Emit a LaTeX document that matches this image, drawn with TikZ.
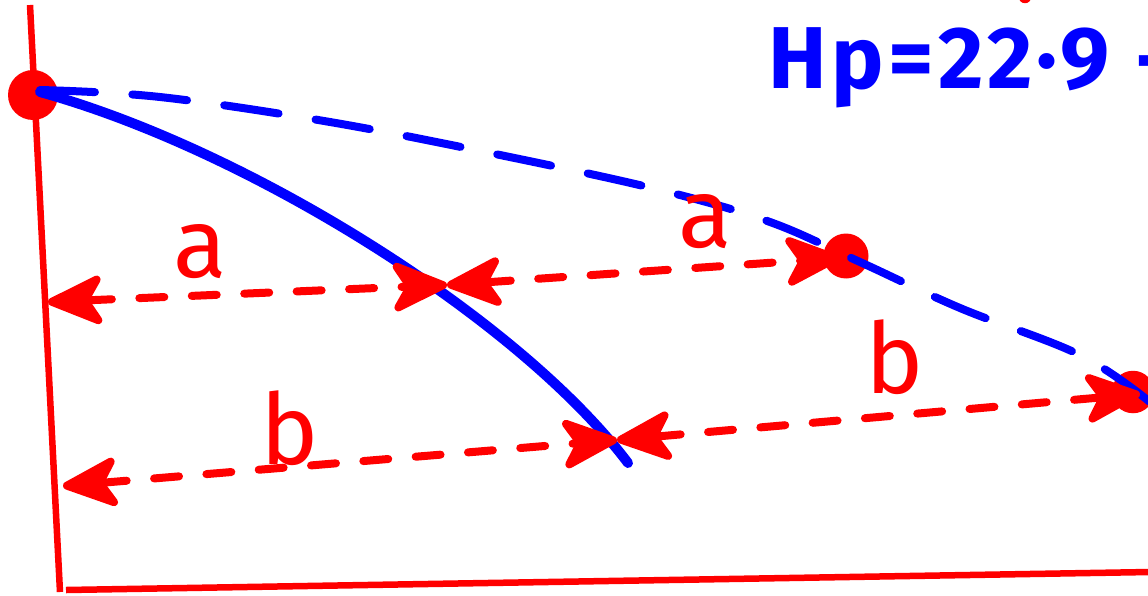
\documentclass[tikz,border=0pt]{standalone}
\usepackage{fontspec}
\setmainfont{Fira Sans}
\usetikzlibrary{arrows.meta}
\definecolor{penred}{RGB}{255,0,0}
\definecolor{penblue}{RGB}{0,0,255}
\tikzset{
  axisline/.style={draw=penred, line width=0.13cm},
  reddot/.style={circle, fill=penred, inner sep=0pt, minimum size=#1},
  solidcurve/.style={draw=penblue, line width=0.2cm, line cap=round, line join=round},
  dashcurve/.style={draw=penblue, line width=0.16cm, line cap=round, dash pattern=on 1.1cm off 0.75cm},
  dimarrow/.style={draw=penred, line width=0.16cm, line cap=round,
    dash pattern=on 0.5cm off 0.55cm,
    {Stealth[length=1.3cm,width=1.15cm,inset=0.35cm,round]}-{Stealth[length=1.3cm,width=1.15cm,inset=0.35cm,round]}},
  lbl/.style={text=penred, font=\fontsize{56}{60}\selectfont, inner sep=0pt},
  eqn/.style={text=penblue, font=\fontsize{50}{56}\selectfont\bfseries\addfontfeature{LetterSpace=5}, inner sep=0pt, anchor=base west}
}
\begin{document}
\begin{tikzpicture}[x=0.02cm,y=-0.02cm]
\useasboundingbox (0,0) rectangle (1148,595);
% axes
\coordinate (Ytop) at (30,5);
\coordinate (Ybot) at (60,592);
\coordinate (Xleft) at (66,590);
\coordinate (Xright) at (1150,572);
\draw[axisline] (Ytop) -- (Ybot);
\draw[axisline] (Xleft) -- (Xright);
% dots
\node[reddot=1.0cm] (P0) at (33,95) {};
\node[reddot=0.9cm] (P1) at (846,256) {};
\node[reddot=0.85cm] (P2) at (1133,392) {};
\node[reddot=0.25cm] (Ptop) at (1025,-3) {};
% blue curves
\draw[solidcurve] (40,92) .. controls (250,150) and (520,320) .. (628,463);
\draw[dashcurve] plot[smooth, tension=0.6] coordinates {(40,90) (160,97) (330,122) (500,155) (660,190) (770,222) (860,262) (960,308) (1080,355) (1150,402)};
% dimension arrows
\coordinate (A0) at (48,302);
\coordinate (A1) at (447,285);
\coordinate (A2) at (840,258);
\coordinate (B0) at (63,486);
\coordinate (B1) at (617,440);
\coordinate (B2) at (1140,394);
\draw[dimarrow] (A0) -- (A1);
\draw[dimarrow] (A1) -- (A2);
\draw[dimarrow] (B0) -- (B1);
\draw[dimarrow] (B1) -- (B2);
% labels
\node[lbl] (la1) at (200,252) {a};
\node[lbl] (la2) at (705,222) {a};
\node[lbl] (lb1) at (290,428) {b};
\node[lbl] (lb2) at (895,357) {b};
\node[eqn] (hp) at (768,88) {Hp=22·9 -};
\end{tikzpicture}
\end{document}
